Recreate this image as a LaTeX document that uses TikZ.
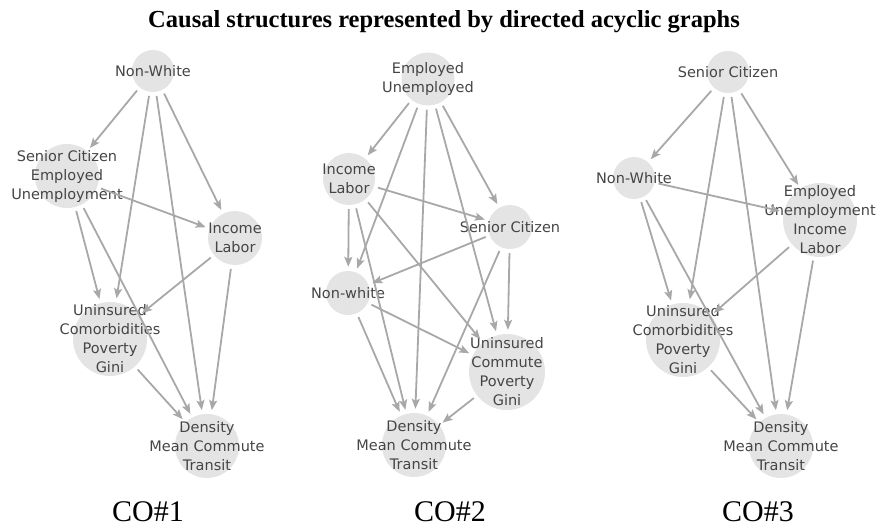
\documentclass[tikz,border=0pt]{standalone}
\usepackage{fontspec}
\setmainfont{Liberation Serif}
\newfontfamily\nodefont{DejaVu Sans}
\usepackage{xcolor}
\usepackage{tikz}
\usetikzlibrary{arrows.meta}
\definecolor{nodegray}{HTML}{E4E4E4}
\definecolor{edgegray}{HTML}{A8A8A8}
\definecolor{textgray}{HTML}{454545}
\tikzset{
    var/.style={
        circle, fill=nodegray, inner sep=0pt
    },
    vtext/.style={
        text=textgray, align=center, inner sep=0pt, font=\nodefont\fontsize{14.5}{19}\selectfont
    },
    caption/.style={
        anchor=base, inner sep=0pt, font=\fontsize{30}{32}\selectfont
    },
    arrow/.style={line width=1.8pt, draw=edgegray, -{Stealth[length=10pt, width=8pt, inset=2pt]},
        shorten >=4pt, shorten <=4pt}
}

\begin{document}
\begin{tikzpicture}[x=1pt, y=-1pt]
    \useasboundingbox (0,0) rectangle (882,527);
    \node (title) [anchor=base, inner sep=0pt, font=\bfseries\fontsize{24.5}{26}\selectfont] at (444,28) {Causal structures represented by directed acyclic graphs};

    \node (nwa) [var, minimum size=42pt, label={[vtext]center:Non-White}] at (153,71) {};
    \node (sca) [var, minimum size=64pt, label={[vtext]center:{Senior Citizen\\Employed\\Unemployment}}] at (67,176) {};
    \node (ina) [var, minimum size=54pt, label={[vtext]center:{Income\\Labor}}] at (235,238) {};
    \node (una) [var, minimum size=74pt, label={[vtext]center:{Uninsured\\Comorbidities\\Poverty\\Gini}}] at (110,339) {};
    \node (dea) [var, minimum size=64pt, label={[vtext]center:{Density\\Mean Commute\\Transit}}] at (207,446) {};
    \node (coa) [caption] at (148,521) {CO\#1};

    \node (eub) [var, minimum size=53pt, label={[vtext]center:{Employed\\Unemployed}}] at (428,79) {};
    \node (inb) [var, minimum size=52pt, label={[vtext]center:{Income\\Labor}}] at (349,179) {};
    \node (scb) [var, minimum size=44pt, label={[vtext]center:Senior Citizen}] at (510,227) {};
    \node (nwb) [var, minimum size=44pt, label={[vtext]center:Non-white}] at (348,293) {};
    \node (unb) [var, minimum size=76pt, label={[vtext]center:{Uninsured\\Commute\\Poverty\\Gini}}] at (507,372) {};
    \node (deb) [var, minimum size=64pt, label={[vtext]center:{Density\\Mean Commute\\Transit}}] at (414,445) {};
    \node (cob) [caption] at (450,521) {CO\#2};

    \node (scc) [var, minimum size=42pt, label={[vtext]center:Senior Citizen}] at (728,72) {};
    \node (nwc) [var, minimum size=42pt, label={[vtext]center:Non-White}] at (634,178) {};
    \node (euc) [var, minimum size=74pt, label={[vtext]center:{Employed\\Unemployment\\Income\\Labor}}] at (820,220) {};
    \node (unc) [var, minimum size=74pt, label={[vtext]center:{Uninsured\\Comorbidities\\Poverty\\Gini}}] at (683,340) {};
    \node (dec) [var, minimum size=64pt, label={[vtext]center:{Density\\Mean Commute\\Transit}}] at (781,446) {};
    \node (coc) [caption] at (758,521) {CO\#3};

    \draw [arrow] (nwa) -- (sca);
    \draw [arrow] (nwa) -- (una);
    \draw [arrow] (nwa) -- (dea);
    \draw [arrow] (nwa) -- (ina);
    \draw [arrow] (sca) -- (ina);
    \draw [arrow] (sca) -- (una);
    \draw [arrow] (sca) -- (dea);
    \draw [arrow] (ina) -- (una);
    \draw [arrow] (ina) -- (dea);
    \draw [arrow] (una) -- (dea);

    \draw [arrow] (eub) -- (inb);
    \draw [arrow] (eub) -- (nwb);
    \draw [arrow] (eub) -- (deb);
    \draw [arrow] (eub) -- (unb);
    \draw [arrow] (eub) -- (scb);
    \draw [arrow] (inb) -- (scb);
    \draw [arrow] (inb) -- (nwb);
    \draw [arrow] (inb) -- (deb);
    \draw [arrow] (inb) -- (unb);
    \draw [arrow] (scb) -- (nwb);
    \draw [arrow] (scb) -- (deb);
    \draw [arrow] (scb) -- (unb);
    \draw [arrow] (nwb) -- (deb);
    \draw [arrow] (nwb) -- (unb);
    \draw [arrow] (unb) -- (deb);

    \draw [arrow] (scc) -- (nwc);
    \draw [arrow] (scc) -- (unc);
    \draw [arrow] (scc) -- (dec);
    \draw [arrow] (scc) -- (euc);
    \draw [arrow] (nwc) -- (euc);
    \draw [arrow] (nwc) -- (unc);
    \draw [arrow] (nwc) -- (dec);
    \draw [arrow] (euc) -- (unc);
    \draw [arrow] (euc) -- (dec);
    \draw [arrow] (unc) -- (dec);
\end{tikzpicture}
\end{document}
